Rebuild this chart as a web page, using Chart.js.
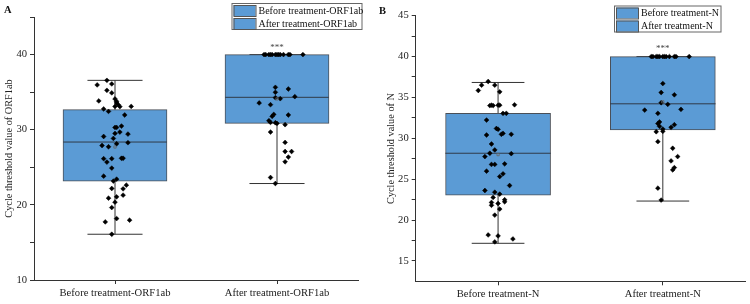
<!DOCTYPE html>
<html>
<head>
<meta charset="utf-8">
<script src="https://cdn.jsdelivr.net/npm/chart.js@4.4.0/dist/chart.umd.min.js"></script>
<style>
body { margin: 0; background: #fff; }
canvas { position: absolute; top: 0; }
</style>
</head>
<body>
<canvas id="chart-a" width="375" height="304" style="left:0"></canvas>
<canvas id="chart-b" width="375" height="304" style="left:375px"></canvas>
<script>
// panel A - ORF1ab
const categoriesA = ['Before treatment-ORF1ab', 'After treatment-ORF1ab'];
const minA = [16.09, 22.84];
const q1A = [23.16, 30.84];
const medianA = [28.36, 34.31];
const q3A = [32.67, 40];
const maxA = [36.57, 40];
const meanA = [27.7, 34.1];

const beforeA = [36.57, 35.96, 36.09, 35.24, 34.9, 34.1, 33.83, 33.77, 33.56, 33.33, 33.07, 33.1, 33.1,
    32.76, 32.44, 31.96, 30.3, 30.3, 30.49, 29.69, 29.5, 29.42, 29.1, 28.84, 28.27, 28.13, 27.9, 27.73,
    26.15, 26.15, 26.2, 26.2, 25.69, 24.89, 23.82, 23.42, 23.16, 22.62, 22.18, 22.13, 21.29, 21.07,
    20.89, 20.36, 19.64, 18.17, 17.73, 17.96, 16.09];
const beforeAJitter = [-0.05, -0.11, -0.02, -0.05, -0.02, 0, -0.1, 0.01, 0.01, 0.02, 0.03, 0, 0.1,
    -0.07, -0.04, 0.06, 0, 0.01, 0.04, 0.03, 0, 0.08, -0.07, -0.01, 0.08, 0.01, -0.08, -0.04,
    -0.07, -0.02, 0.04, 0.05, -0.05, -0.02, -0.07, 0.01, -0.01, 0.07, -0.02, 0.05, 0.05, 0.01,
    -0.04, 0, -0.02, 0.01, -0.06, 0.09, -0.02];
const afterA = [40, 40, 40, 40, 40, 40, 40, 40, 40, 40, 40, 40, 40,
    35.64, 34.98, 35.42, 34.4, 34.27, 34.13, 33.56, 33.33, 31.96, 32.04, 31.78, 31.2, 30.97, 30.93,
    30.84, 30.67, 29.69, 28.31, 27.1, 27.1, 26.36, 25.73, 23.64, 22.84];
const afterAJitter = [-0.08, -0.07, -0.05, -0.04, -0.03, -0.01, 0, 0.01, 0.02, 0.04, 0.07, 0.08, 0.16,
    -0.01, -0.01, 0.07, 0.11, -0.01, 0.02, -0.11, -0.04, 0.07, -0.02, -0.03, -0.05, -0.04, -0.01,
    0, 0.05, -0.04, 0.05, 0.09, 0.05, 0.07, 0.05, -0.04, -0.01];

// panel B - N
const categoriesB = ['Before treatment-N', 'After treatment-N'];
const minB = [17.15, 22.32];
const q1B = [23.05, 31.01];
const medianB = [28.17, 34.22];
const q3B = [33.05, 40];
const maxB = [36.83, 40];
const meanB = [28.0, 34.46];

const beforeB = [36.95, 36.5, 36.5, 35.85, 35.68, 34.0, 34.05, 34.0, 34.05, 34.05, 34.1, 33.05, 33.05,
    32.23, 31.2, 31.1, 30.6, 30.49, 30.49, 30.4, 29.3, 28.57, 28.17, 27.76, 28.12, 26.8, 26.8, 26.87,
    25.98, 25.65, 25.32, 24.22, 23.61, 23.4, 23.17, 22.76, 22.48, 22.23, 22.15, 21.8, 22.02, 21.34,
    20.6, 18.17, 18.05, 17.68, 17.32];
const beforeBJitter = [-0.06, -0.1, -0.02, -0.12, 0.01, -0.05, -0.04, -0.03, 0, 0.01, 0.1, 0.03, 0.05,
    -0.07, -0.01, 0, 0.03, 0.02, 0.08, -0.07, -0.04, -0.02, -0.05, -0.08, 0.08, -0.04, -0.02, 0.04,
    -0.07, 0.03, 0.01, 0.07, -0.08, -0.02, 0.01, -0.03, 0.04, 0.04, -0.04, -0.04, 0, 0.01,
    -0.02, -0.06, 0, 0.09, -0.02];
const afterB = [40, 40, 40, 40, 40, 40, 40, 40, 40, 40, 40, 40,
    36.7, 35.6, 35.32, 34.35, 34.15, 33.45, 33.54, 33.05, 32.0, 31.8, 31.66, 31.34, 31.46, 30.8,
    31.13, 30.85, 29.59, 28.78, 27.76, 27.23, 26.41, 26.13, 23.9, 22.44];
const afterBJitter = [-0.07, -0.06, -0.04, -0.03, -0.02, 0, 0.01, 0.02, 0.04, 0.07, 0.08, 0.16,
    0, -0.01, 0.07, -0.01, 0.03, -0.11, 0.11, -0.03, -0.02, -0.03, 0.07, 0.05, -0.02, -0.04,
    0, 0, -0.03, 0.06, 0.09, 0.05, 0.07, 0.06, -0.03, -0.01];

const BOX_COLOR = '#5B9BD5';
const SERIF = '"Liberation Serif", "Times New Roman", serif';

function makePanel(id, p) {
    const ctx = document.getElementById(id).getContext('2d');
    const gap = x => ({ x: x, y: null });

    // whiskers + caps
    const whiskers = [];
    const medians = [];
    const boxes = [];
    for (let i = 0; i < 2; i++) {
        const c = i + 1;
        whiskers.push({ x: c, y: p.min[i] }, { x: c, y: p.max[i] }, gap(c));
        whiskers.push({ x: c - p.capHalf, y: p.min[i] }, { x: c + p.capHalf, y: p.min[i] }, gap(c));
        whiskers.push({ x: c - p.capHalf, y: p.max[i] }, { x: c + p.capHalf, y: p.max[i] }, gap(c));
        medians.push({ x: c - p.boxHalf, y: p.median[i] }, { x: c + p.boxHalf, y: p.median[i] }, gap(c));
        boxes.push({ x: c, y: [p.q1[i], p.q3[i]] });
    }
    const points = [];
    p.groups.forEach((g, i) => {
        g.values.forEach((v, j) => points.push({ x: i + 1 + g.jitter[j], y: v }));
    });
    const means = p.mean.map((v, i) => ({ x: i + 1, y: v }));

    const extras = {
        id: 'extras',
        afterDraw(chart) {
            const c = chart.ctx;
            const xs = chart.scales.x, ys = chart.scales.y;
            c.save();
            // panel letter
            c.fillStyle = '#111';
            c.font = 'bold 10.5px ' + SERIF;
            c.textBaseline = 'middle';
            c.textAlign = 'left';
            c.fillText(p.letter, p.letterPos[0], p.letterPos[1]);
            // significance stars
            c.font = '9px ' + SERIF;
            c.fillStyle = '#444';
            c.textAlign = 'center';
            c.fillText('***', xs.getPixelForValue(2), ys.getPixelForValue(p.starsY));
            // legend
            const L = p.legend;
            c.fillStyle = '#fff';
            c.fillRect(L.x, L.y, L.w, L.h);
            c.strokeStyle = '#666';
            c.lineWidth = 1;
            c.strokeRect(L.x + 0.5, L.y + 0.5, L.w, L.h);
            const rowH = L.h / 2;
            p.cats.forEach((name, i) => {
                const top = L.y + i * rowH;
                c.fillStyle = BOX_COLOR;
                c.fillRect(L.x + 2, top + 2, L.sw, rowH - 2);
                c.strokeStyle = '#555';
                c.strokeRect(L.x + 2.5, top + 2.5, L.sw, rowH - 2);
                c.fillStyle = '#111';
                c.font = '10px ' + SERIF;
                c.textAlign = 'left';
                c.textBaseline = 'middle';
                c.fillText(name, L.x + L.sw + 5, top + rowH / 2 + 1.5);
            });
            c.restore();
        }
    };

    const axisGrid = {
        drawOnChartArea: false,
        drawTicks: true,
        tickLength: 4,
        offset: false,
        color: '#333'
    };

    const config = {
        type: 'scatter',
        data: {
            datasets: [
                {
                    type: 'line',
                    data: whiskers,
                    borderColor: '#333',
                    borderWidth: 1,
                    pointRadius: 0,
                    spanGaps: false,
                    order: 4
                },
                {
                    type: 'bar',
                    data: boxes,
                    backgroundColor: BOX_COLOR,
                    borderColor: '#4a4f57',
                    borderWidth: 1,
                    borderSkipped: false,
                    barThickness: p.boxPx,
                    order: 3
                },
                {
                    type: 'line',
                    data: medians,
                    borderColor: '#2f3a48',
                    borderWidth: 1,
                    pointRadius: 0,
                    spanGaps: false,
                    order: 2
                },
                {
                    type: 'scatter',
                    data: points,
                    pointStyle: 'rectRot',
                    pointRadius: 2.4,
                    backgroundColor: '#000',
                    borderColor: '#000',
                    borderWidth: 0.5,
                    order: 1
                },
                {
                    type: 'scatter',
                    data: means,
                    pointStyle: 'rect',
                    pointRadius: 1.6,
                    backgroundColor: 'rgba(0,0,0,0)',
                    borderColor: '#666',
                    borderWidth: 0.8,
                    order: 0
                }
            ]
        },
        options: {
            responsive: false,
            maintainAspectRatio: false,
            animation: false,
            layout: { padding: p.padding },
            plugins: {
                legend: { display: false },
                tooltip: { enabled: false }
            },
            scales: {
                x: {
                    type: 'linear',
                    min: 0.5,
                    max: 2.5,
                    offset: false,
                    afterBuildTicks: s => { s.ticks = [{ value: 1 }, { value: 2 }]; },
                    afterFit: s => { s.height = p.axisH; },
                    ticks: {
                        callback: v => p.cats[v - 1],
                        autoSkip: false,
                        maxRotation: 0,
                        padding: 3,
                        color: '#222',
                        font: { family: SERIF, size: 10.6 }
                    },
                    grid: axisGrid,
                    border: { color: '#333' }
                },
                y: {
                    type: 'linear',
                    min: p.yMin,
                    max: p.yMax,
                    afterBuildTicks: s => {
                        const t = [];
                        for (let v = p.tickStart; v <= p.yMax + 1e-6; v += p.tickStep) t.push({ value: v });
                        s.ticks = t;
                    },
                    afterFit: s => { s.width = p.axisW; },
                    ticks: {
                        callback: v => (Math.abs(v / p.labelStep - Math.round(v / p.labelStep)) < 1e-6 ? v : ''),
                        padding: 3,
                        color: '#222',
                        font: { family: SERIF, size: 10.6 }
                    },
                    title: {
                        display: true,
                        text: p.title,
                        color: '#222',
                        font: { family: SERIF, size: 10.3 },
                        padding: p.titlePad
                    },
                    grid: axisGrid,
                    border: { color: '#333' }
                }
            }
        },
        plugins: [extras]
    };
    new Chart(ctx, config);
}

makePanel('chart-a', {
    cats: categoriesA,
    min: minA, q1: q1A, median: medianA, q3: q3A, max: maxA, mean: meanA,
    groups: [
        { values: beforeA, jitter: beforeAJitter },
        { values: afterA, jitter: afterAJitter }
    ],
    yMin: 10, yMax: 45, tickStart: 10, tickStep: 5, labelStep: 10,
    padding: { left: 0, top: 17, right: 17, bottom: 0 },
    axisW: 34, axisH: 24,
    boxPx: 104, boxHalf: 0.32, capHalf: 0.17,
    title: 'Cycle threshold value of ORF1ab', titlePad: { top: 3, bottom: 0 },
    letter: 'A', letterPos: [4, 10],
    starsY: 40.9,
    legend: { x: 231.5, y: 3, w: 130, h: 26, sw: 22 }
});

makePanel('chart-b', {
    cats: categoriesB,
    min: minB, q1: q1B, median: medianB, q3: q3B, max: maxB, mean: meanB,
    groups: [
        { values: beforeB, jitter: beforeBJitter },
        { values: afterB, jitter: afterBJitter }
    ],
    yMin: 12.5, yMax: 45, tickStart: 15, tickStep: 2.5, labelStep: 5,
    padding: { left: 0, top: 15.7, right: 4, bottom: 0 },
    axisW: 40.7, axisH: 22.7,
    boxPx: 105, boxHalf: 0.32, capHalf: 0.16,
    title: 'Cycle threshold value of N', titlePad: { top: 10, bottom: 0 },
    letter: 'B', letterPos: [4, 11],
    starsY: 41.0,
    legend: { x: 239, y: 5.5, w: 106.5, h: 26, sw: 22 }
});
</script>
</body>
</html>
